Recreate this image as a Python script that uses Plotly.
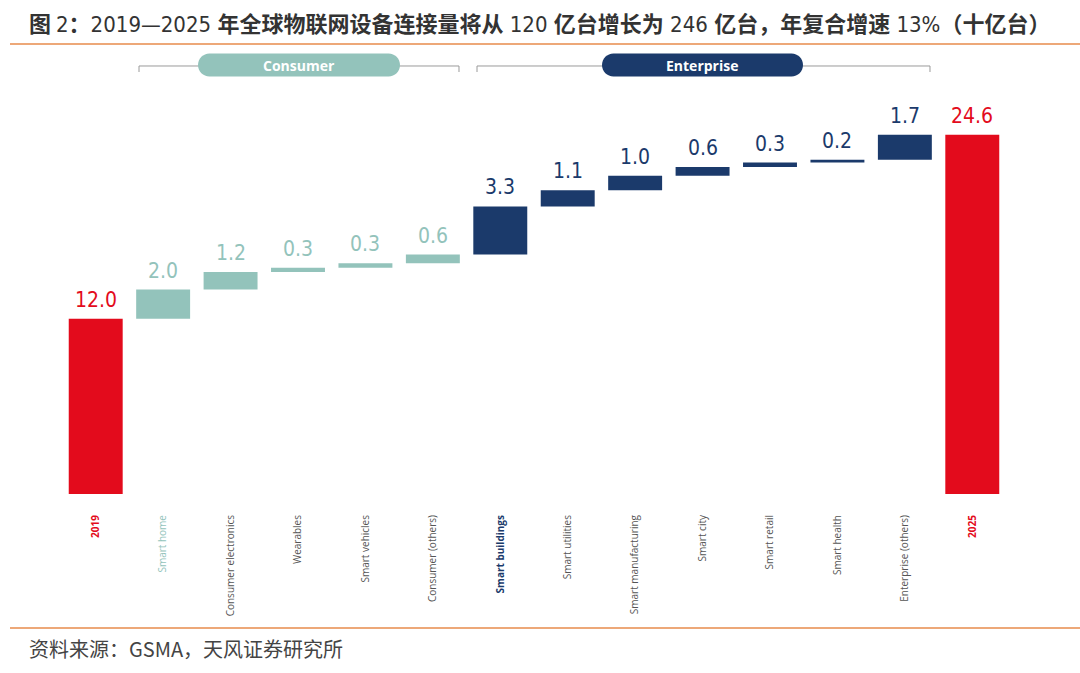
import plotly.graph_objects as go

categories = ["2019", "Smart home", "Consumer electronics", "Wearables", "Smart vehicles",
              "Consumer (others)", "Smart buildings", "Smart utilities", "Smart manufacturing",
              "Smart city", "Smart retail", "Smart health", "Enterprise (others)", "2025"]
values = [12.0, 2.0, 1.2, 0.3, 0.3, 0.6, 3.3, 1.1, 1.0, 0.6, 0.3, 0.2, 1.7, 24.6]
kinds = ["total", "consumer", "consumer", "consumer", "consumer", "consumer",
         "enterprise", "enterprise", "enterprise", "enterprise", "enterprise", "enterprise",
         "enterprise", "total"]

RED = "#E30B1C"
TEAL = "#93C3BB"
NAVY = "#1B3A6B"
GRAY = "#555555"
color_map = {"total": RED, "consumer": TEAL, "enterprise": NAVY}

# waterfall bases
bases = []
run = 0.0
for v, k in zip(values, kinds):
    if k == "total":
        bases.append(0.0)
        run = v
    else:
        bases.append(run)
        run += v

colors = [color_map[k] for k in kinds]
texts = [f"{v:.1f}" for v in values]

# tick label styling
ticktext = []
for i, c in enumerate(categories):
    if kinds[i] == "total":
        ticktext.append(f"<b><span style='color:{RED}'>{c}</span></b>")
    elif c == "Smart home":
        ticktext.append(f"<span style='color:{TEAL}'>{c}</span>")
    elif c == "Smart buildings":
        ticktext.append(f"<b><span style='color:{NAVY}'>{c}</span></b>")
    else:
        ticktext.append(c)

fig = go.Figure()
fig.add_trace(go.Bar(
    x=list(range(len(categories))), y=values, base=bases,
    marker=dict(color=colors, line=dict(width=0)),
    width=0.8, cliponaxis=False,
    hoverinfo="skip",
))

# pixel geometry
PL, PR, PT, PB = 62, 1006, 80, 494
W, H = 1080, 673

def px(xp):
    return (xp - PL) / (PR - PL)

def py(yp):
    return (PB - yp) / (PB - PT)

def pill(x0, x1, yc, h):
    r = h / 2
    k = 0.5523 * r
    def P(x, y):
        return f"{px(x):.5f},{py(y):.5f}"
    t, b = yc - r, yc + r
    return (f"M{P(x0 + r, t)} L{P(x1 - r, t)} "
            f"C{P(x1 - r + k, t)} {P(x1, yc - k)} {P(x1, yc)} "
            f"C{P(x1, yc + k)} {P(x1 - r + k, b)} {P(x1 - r, b)} "
            f"L{P(x0 + r, b)} "
            f"C{P(x0 + r - k, b)} {P(x0, yc + k)} {P(x0, yc)} "
            f"C{P(x0, yc - k)} {P(x0 + r - k, t)} {P(x0 + r, t)} Z")

shapes = []
for (x0, x1) in [(139, 459), (477, 930)]:
    shapes.append(dict(type="path", xref="paper", yref="paper",
                       path=f"M{px(x0):.5f},{py(72):.5f} L{px(x0):.5f},{py(66):.5f} L{px(x1):.5f},{py(66):.5f} L{px(x1):.5f},{py(72):.5f}",
                       line=dict(color="#9a9a9a", width=1)))
for (x0, x1, col) in [(198, 400, TEAL), (602, 803, NAVY)]:
    shapes.append(dict(type="path", xref="paper", yref="paper", path=pill(x0, x1, 65, 23),
                       fillcolor=col, line=dict(width=0)))
for yline in [44, 628]:
    shapes.append(dict(type="line", xref="paper", yref="paper",
                       x0=px(10), x1=px(1080),
                       y0=py(yline), y1=py(yline), line=dict(color="#EDA878", width=2)))

NUM = "font-family:DejaVu Sans Condensed;font-weight:normal"
title = (f"<b>图 </b><span style='{NUM}'>2</span><b>：</b><span style='{NUM}'>2019—2025 </span>"
         f"<b>年全球物联网设备连接量将从</b><span style='{NUM}'> 120 </span><b>亿台增长为</b>"
         f"<span style='{NUM}'> 246 </span><b>亿台，年复合增速</b><span style='{NUM}'> 13%</span><b>（十亿台）</b>")

annotations = [
    dict(text="Consumer", x=px(299), y=py(65), xref="paper", yref="paper", showarrow=False,
         xanchor="center", yanchor="middle",
         font=dict(family="Open Sans, Liberation Sans", size=14, color="white", weight="bold")),
    dict(text="Enterprise", x=px(702), y=py(65), xref="paper", yref="paper", showarrow=False,
         xanchor="center", yanchor="middle",
         font=dict(family="Open Sans, Liberation Sans", size=14, color="white", weight="bold")),
    dict(text=title,
         x=px(27), y=py(22), xref="paper", yref="paper", xanchor="left", yanchor="middle",
         showarrow=False, font=dict(family="Noto Sans CJK SC", size=22, color="#333333")),
    dict(text="资料来源：GSMA，天风证券研究所",
         x=px(27), y=py(648), xref="paper", yref="paper", xanchor="left", yanchor="middle",
         showarrow=False, font=dict(family="Noto Sans CJK SC", size=20, color="#444444")),
]

# value labels above each bar, placed in data coordinates
for i, (v, b) in enumerate(zip(values, bases)):
    annotations.append(dict(
        text=texts[i], x=i, y=b + v, xref="x", yref="y", showarrow=False,
        xanchor="center", yanchor="bottom", yshift=5,
        font=dict(family="DejaVu Sans Condensed, Liberation Sans", size=21, color=colors[i], weight=300),
    ))

fig.update_layout(
    width=W, height=H,
    margin=dict(l=PL, r=W - PR, t=PT, b=H - PB, pad=0),
    plot_bgcolor="white", paper_bgcolor="white",
    showlegend=False,
    shapes=shapes, annotations=annotations,
    xaxis=dict(range=[-0.5, len(categories) - 0.5], tickmode="array",
               tickvals=list(range(len(categories))), ticktext=ticktext,
               tickangle=-90, showgrid=False, zeroline=False, showline=False,
               ticks="", ticklabelstandoff=18,
               tickfont=dict(family="Open Sans, Liberation Sans", size=10, color=GRAY)),
    yaxis=dict(range=[0, (PB - PT) / 14.6], visible=False, showgrid=False, zeroline=False),
)

fig.write_html("out.html", config={"displayModeBar": False},
               post_script="document.body.style.margin='0';document.body.style.padding='0';")
